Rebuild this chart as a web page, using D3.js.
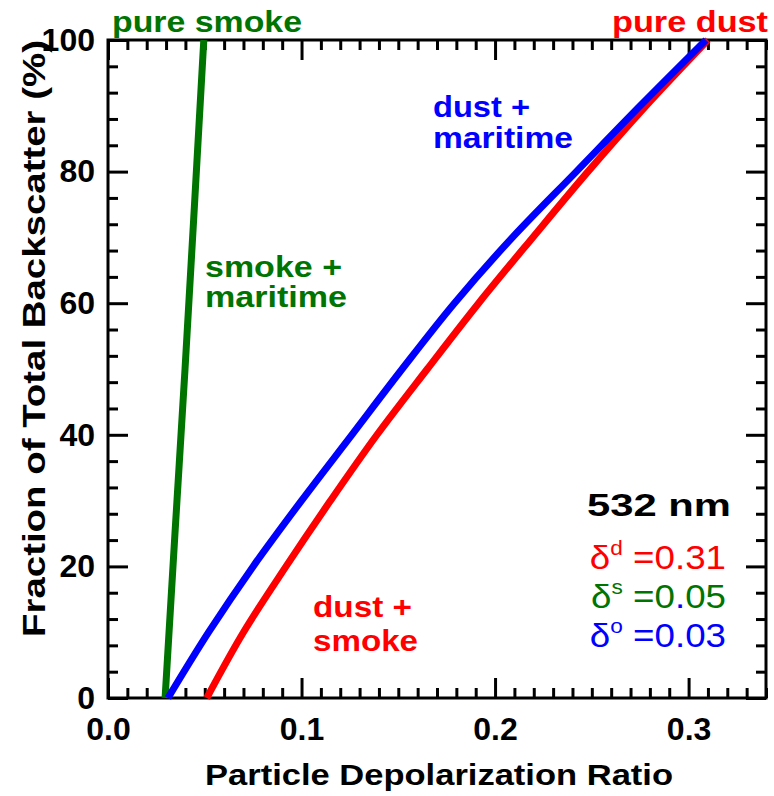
<!DOCTYPE html>
<html>
<head>
<meta charset="utf-8">
<script src="https://cdn.jsdelivr.net/npm/d3@7"></script>
<style>
  body { margin: 0; background: #fff; }
  svg { font-family: "Liberation Sans", Arial, sans-serif; }
</style>
</head>
<body>
<svg id="chart" width="774" height="796"></svg>
<script>
// backscatter fraction (%) and depolarization ratio
var fraction = [0, 10, 20, 30, 40, 50, 60, 70, 80, 90, 100];
var dustSmoke = [0.051, 0.070, 0.092, 0.115, 0.139, 0.165, 0.1915, 0.2195, 0.248, 0.278, 0.310];
var dustMaritime = [0.031, 0.052, 0.075, 0.100, 0.126, 0.152, 0.179, 0.209, 0.242, 0.275, 0.309];
var smokeFraction = [0, 25, 50, 75, 100];
var smokeMaritime = [0.0295, 0.0346, 0.0398, 0.0447, 0.0495];

var xMajor = [0, 0.1, 0.2, 0.3];
var yMajor = [0, 20, 40, 60, 80, 100];

var svg = d3.select("#chart");
var mLeft = 108, mRight = 766, mTop = 40, mBottom = 698;

var x = d3.scaleLinear().domain([0, 0.34]).range([mLeft, mRight]);
var y = d3.scaleLinear().domain([0, 100]).range([mBottom, mTop]);

var xMinor = d3.range(0, 0.341, 0.01).filter(function (v) { return Math.abs(v * 10 - Math.round(v * 10)) > 1e-6; });
var yMinor = d3.range(0, 101, 4).filter(function (v) { return v % 20 != 0; });

function styleAxis(g) {
    g.select(".domain").remove();
    g.selectAll(".tick line").attr("stroke", "#000").attr("stroke-width", 3);
    g.selectAll(".tick text").attr("font-size", 32).attr("font-weight", "bold").attr("fill", "#000");
}

// bottom axis with labels
svg.append("g").attr("transform", "translate(0," + mBottom + ")")
    .call(d3.axisBottom(x).tickValues(xMajor).tickSize(-20).tickPadding(19).tickFormat(d3.format(".1f")))
    .call(styleAxis);
svg.append("g").attr("transform", "translate(0," + mBottom + ")")
    .call(d3.axisBottom(x).tickValues(xMinor).tickSize(-10).tickFormat(""))
    .call(styleAxis);
// top axis
svg.append("g").attr("transform", "translate(0," + mTop + ")")
    .call(d3.axisTop(x).tickValues(xMajor).tickSize(-20).tickFormat(""))
    .call(styleAxis);
svg.append("g").attr("transform", "translate(0," + mTop + ")")
    .call(d3.axisTop(x).tickValues(xMinor).tickSize(-10).tickFormat(""))
    .call(styleAxis);
// left axis with labels
svg.append("g").attr("transform", "translate(" + mLeft + ",0)")
    .call(d3.axisLeft(y).tickValues(yMajor).tickSize(-20).tickPadding(13).tickFormat(d3.format("d")))
    .call(styleAxis);
svg.append("g").attr("transform", "translate(" + mLeft + ",0)")
    .call(d3.axisLeft(y).tickValues(yMinor).tickSize(-10).tickFormat(""))
    .call(styleAxis);
// right axis
svg.append("g").attr("transform", "translate(" + mRight + ",0)")
    .call(d3.axisRight(y).tickValues(yMajor).tickSize(-20).tickFormat(""))
    .call(styleAxis);
svg.append("g").attr("transform", "translate(" + mRight + ",0)")
    .call(d3.axisRight(y).tickValues(yMinor).tickSize(-10).tickFormat(""))
    .call(styleAxis);

svg.append("rect")
    .attr("x", mLeft).attr("y", mTop)
    .attr("width", mRight - mLeft).attr("height", mBottom - mTop)
    .attr("fill", "none").attr("stroke", "#000").attr("stroke-width", 3);

// curves
var line = d3.line()
    .x(function (d) { return x(d[0]); })
    .y(function (d) { return y(d[1]); })
    .curve(d3.curveMonotoneY);

var curves = [
    { xs: smokeMaritime, ys: smokeFraction, color: "#007400" },
    { xs: dustSmoke, ys: fraction, color: "#ff0000" },
    { xs: dustMaritime, ys: fraction, color: "#0000ff" }
];
curves.forEach(function (c) {
    svg.append("path")
        .datum(d3.zip(c.xs, c.ys))
        .attr("d", line)
        .attr("fill", "none")
        .attr("stroke", c.color)
        .attr("stroke-width", 7);
});

// text, stretched to the widths seen in the figure
function label(txt, xp, yp, color, anchor, size, width) {
    svg.append("text")
        .attr("x", xp).attr("y", yp)
        .attr("text-anchor", anchor || "start")
        .attr("font-size", size).attr("font-weight", "bold")
        .attr("fill", color)
        .attr("textLength", width).attr("lengthAdjust", "spacingAndGlyphs")
        .text(txt);
}

// axis titles
label("Particle Depolarization Ratio", 205, 785, "#000", "start", 30, 468);
svg.append("text")
    .attr("transform", "translate(45,637) rotate(-90)")
    .attr("font-size", 31).attr("font-weight", "bold")
    .attr("textLength", 597).attr("lengthAdjust", "spacingAndGlyphs")
    .text("Fraction of Total Backscatter (%)");

label("pure smoke", 112, 32, "#007400", "start", 29, 190);
label("pure dust", 612, 32, "#ff0000", "start", 29, 156);
label("smoke +", 205, 277, "#007400", "start", 29, 137);
label("maritime", 205, 307, "#007400", "start", 29, 142);
label("dust +", 433, 117, "#0000ff", "start", 29, 97);
label("maritime", 433, 148, "#0000ff", "start", 29, 140);
label("dust +", 313, 617, "#ff0000", "start", 29, 99);
label("smoke", 313, 651, "#ff0000", "start", 29, 105);
label("532 nm", 587, 516, "#000", "start", 31, 144);

// depolarization values
var deltaRows = [
    { sup: "d", val: "0.31", color: "#ff0000", y: 569 },
    { sup: "s", val: "0.05", color: "#007400", y: 608 },
    { sup: "o", val: "0.03", color: "#0000ff", y: 647 }
];
deltaRows.forEach(function (r) {
    var t = svg.append("text")
        .attr("transform", "translate(726," + r.y + ") scale(1.08,1)")
        .attr("text-anchor", "end")
        .attr("font-size", 34)
        .attr("fill", r.color);
    t.append("tspan").text("δ");
    t.append("tspan").attr("font-size", 21).attr("dy", -14).text(r.sup);
    t.append("tspan").attr("dy", 14).text(" =");
    if (r.sup == "s") {
        t.append("tspan").text("0");
        t.append("tspan").attr("fill", "#0000ff").text(".");
        t.append("tspan").text("05");
    } else {
        t.append("tspan").text(r.val);
    }
});
</script>
</body>
</html>
